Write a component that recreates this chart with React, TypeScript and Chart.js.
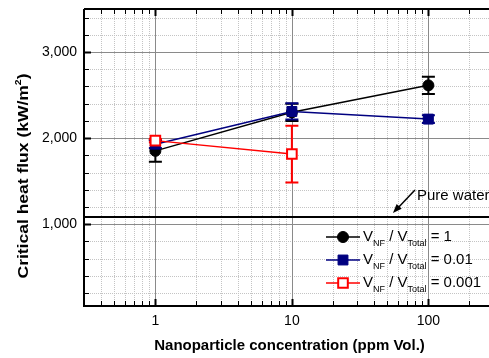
import React, { useEffect, useRef } from 'react';
import { Chart, registerables } from 'chart.js';

Chart.register(...registerables);

// ---- data ----
const CONCENTRATION = [1, 10, 100];
const CHF_RATIO_1 = [1852, 2300, 2613];
const ERR_RATIO_1 = [125, 100, 100];
const CHF_RATIO_001 = [1930, 2310, 2221];
const ERR_RATIO_001 = [45, 95, 45];
const CONCENTRATION_0001 = [1, 10];
const CHF_RATIO_0001 = [1971, 1815];
const ERR_RATIO_0001 = [20, 330];
const PURE_WATER = 1085;
const X_TICKS = [1, 10, 100];
const Y_TICKS = [1000, 2000, 3000];
const X_MIN = 0.3;
const X_MAX = 278;
const Y_MIN = 50;
const Y_MAX = 3500;

const FONT = '"Liberation Sans", Arial, Helvetica, sans-serif';

const SERIES = [
  { label: '0.001', xs: CONCENTRATION_0001, ys: CHF_RATIO_0001, err: ERR_RATIO_0001, color: '#ff0000', style: 'rect', fill: '#ffffff', radius: 6.8, bw: 2, legend: '0.001' },
  { label: '0.01', xs: CONCENTRATION, ys: CHF_RATIO_001, err: ERR_RATIO_001, color: '#000080', style: 'rect', fill: '#000080', radius: 7, bw: 1, legend: '0.01' },
  { label: '1', xs: CONCENTRATION, ys: CHF_RATIO_1, err: ERR_RATIO_1, color: '#000000', style: 'circle', fill: '#000000', radius: 5.5, bw: 1, legend: '1' },
];

function drawMarker(ctx: CanvasRenderingContext2D, s: any, x: number, y: number) {
  ctx.save();
  ctx.fillStyle = s.fill;
  ctx.strokeStyle = s.color;
  ctx.lineWidth = s.bw;
  ctx.beginPath();
  if (s.style === 'circle') {
    ctx.arc(x, y, s.radius, 0, Math.PI * 2);
  } else {
    const h = s.radius * Math.SQRT1_2;
    ctx.rect(x - h, y - h, 2 * h, 2 * h);
  }
  ctx.fill();
  ctx.stroke();
  ctx.restore();
}

const decorPlugin = {
  id: 'decor',
  beforeDatasetsDraw(chart: any) {
    const { ctx, chartArea: a, scales } = chart;
    const x = scales.x, y = scales.y;
    ctx.save();
    // minor grid
    ctx.lineWidth = 1;
    ctx.strokeStyle = '#c4c4c4';
    ctx.setLineDash([1, 1]);
    const minorX: number[] = [];
    [0.1, 1, 10, 100].forEach((d) => {
      for (let k = 2; k <= 9; k++) {
        const v = k * d;
        if (v > X_MIN && v < X_MAX) minorX.push(v);
      }
    });
    const minorY: number[] = [];
    for (let v = 200; v < Y_MAX; v += 200) if (v % 1000 !== 0) minorY.push(v);
    ctx.beginPath();
    minorX.forEach((v) => {
      const px = Math.round(x.getPixelForValue(v)) + 0.5;
      ctx.moveTo(px, a.top); ctx.lineTo(px, a.bottom);
    });
    minorY.forEach((v) => {
      const py = Math.round(y.getPixelForValue(v)) + 0.5;
      ctx.moveTo(a.left, py); ctx.lineTo(a.right, py);
    });
    ctx.stroke();
    // major grid
    ctx.setLineDash([]);
    ctx.strokeStyle = '#8a8a8a';
    ctx.beginPath();
    X_TICKS.forEach((v) => {
      const px = Math.round(x.getPixelForValue(v)) + 0.5;
      ctx.moveTo(px, a.top); ctx.lineTo(px, a.bottom);
    });
    Y_TICKS.forEach((v) => {
      const py = Math.round(y.getPixelForValue(v)) + 0.5;
      ctx.moveTo(a.left, py); ctx.lineTo(a.right, py);
    });
    ctx.stroke();

    // frame
    ctx.strokeStyle = '#000';
    ctx.lineWidth = 2;
    ctx.beginPath();
    ctx.moveTo(a.left, a.top); ctx.lineTo(a.left, a.bottom); ctx.lineTo(a.right, a.bottom);
    ctx.moveTo(a.left, a.top); ctx.lineTo(a.right, a.top);
    ctx.stroke();
    // inward ticks
    ctx.lineWidth = 1;
    ctx.beginPath();
    const tickX = (v: number, len: number) => {
      const px = Math.round(x.getPixelForValue(v)) + 0.5;
      ctx.moveTo(px, a.bottom); ctx.lineTo(px, a.bottom - len);
      ctx.moveTo(px, a.top); ctx.lineTo(px, a.top + len);
    };
    const tickY = (v: number, len: number) => {
      const py = Math.round(y.getPixelForValue(v)) + 0.5;
      ctx.moveTo(a.left, py); ctx.lineTo(a.left + len, py);
    };
    minorX.forEach((v) => tickX(v, 5));
    minorY.forEach((v) => tickY(v, 5));
    ctx.stroke();
    ctx.lineWidth = 2;
    ctx.beginPath();
    X_TICKS.forEach((v) => tickX(v, 7));
    Y_TICKS.forEach((v) => tickY(v, 7));
    ctx.stroke();

    // error bars
    for (let si = SERIES.length - 1; si >= 0; si--) {
      const s = SERIES[si];
      ctx.strokeStyle = s.color;
      ctx.lineWidth = 2;
      ctx.beginPath();
      s.xs.forEach((xv: number, i: number) => {
        const px = x.getPixelForValue(xv);
        const t = y.getPixelForValue(s.ys[i] + s.err[i]);
        const b = y.getPixelForValue(s.ys[i] - s.err[i]);
        ctx.moveTo(px, t); ctx.lineTo(px, b);
        ctx.moveTo(px - 6.5, t); ctx.lineTo(px + 6.5, t);
        ctx.moveTo(px - 6.5, b); ctx.lineTo(px + 6.5, b);
      });
      ctx.stroke();
    }
    ctx.restore();
  },
  afterDraw(chart: any) {
    const { ctx, scales } = chart;
    const x = scales.x, y = scales.y;
    ctx.save();
    // annotation
    const tipY = y.getPixelForValue(PURE_WATER) - 4;
    const tipX = x.getPixelForValue(55);
    const tailX = tipX + 22, tailY = tipY - 23;
    ctx.strokeStyle = '#000';
    ctx.fillStyle = '#000';
    ctx.lineWidth = 1.5;
    ctx.beginPath();
    ctx.moveTo(tailX, tailY); ctx.lineTo(tipX + 4, tipY - 4);
    ctx.stroke();
    const ang = Math.atan2(tipY - tailY, tipX - tailX);
    ctx.beginPath();
    ctx.moveTo(tipX, tipY);
    ctx.lineTo(tipX - 9 * Math.cos(ang) + 3.5 * Math.sin(ang), tipY - 9 * Math.sin(ang) - 3.5 * Math.cos(ang));
    ctx.lineTo(tipX - 9 * Math.cos(ang) - 3.5 * Math.sin(ang), tipY - 9 * Math.sin(ang) + 3.5 * Math.cos(ang));
    ctx.closePath();
    ctx.fill();
    ctx.font = `15px ${FONT}`;
    ctx.textBaseline = 'middle';
    ctx.textAlign = 'left';
    ctx.fillText('Pure water', tailX + 2, tailY + 6);

    // legend
    const rows = [SERIES[2], SERIES[1], SERIES[0]];
    rows.forEach((s, i) => {
      const cy = 237 + i * 23;
      ctx.strokeStyle = s.color;
      ctx.lineWidth = 1.5;
      ctx.beginPath();
      ctx.moveTo(326, cy); ctx.lineTo(360, cy);
      ctx.stroke();
      drawMarker(ctx, s, 343, cy);
      ctx.fillStyle = '#000';
      let tx = 363;
      const main = `15px ${FONT}`;
      const sub = `9px ${FONT}`;
      const put = (t: string, f: string, dy: number) => {
        ctx.font = f;
        ctx.fillText(t, tx, cy + dy);
        tx += ctx.measureText(t).width;
      };
      put('V', main, 0);
      put('NF', sub, 7);
      put(' / V', main, 0);
      put('Total', sub, 7);
      put(' = ' + s.legend, main, 0);
    });

    // axis titles
    ctx.fillStyle = '#000';
    ctx.font = `bold 15px ${FONT}`;
    ctx.textAlign = 'center';
    ctx.textBaseline = 'middle';
    ctx.fillText('Nanoparticle concentration (ppm Vol.)', 289.5, 346);

    ctx.translate(24, 176);
    ctx.rotate(-Math.PI / 2);
    ctx.textAlign = 'left';
    const p1 = 'Critical heat flux (kW/m';
    const p3 = ')';
    ctx.font = `bold 15px ${FONT}`;
    const w1 = ctx.measureText(p1).width;
    const w3 = ctx.measureText(p3).width;
    ctx.font = `bold 9px ${FONT}`;
    const w2 = ctx.measureText('2').width;
    const total = w1 + w2 + w3;
    const target = 205;
    ctx.scale(target / total, 1);
    let sx = -total / 2;
    ctx.font = `bold 15px ${FONT}`;
    ctx.fillText(p1, sx, 0); sx += w1;
    ctx.font = `bold 9px ${FONT}`;
    ctx.fillText('2', sx, -5); sx += w2;
    ctx.font = `bold 15px ${FONT}`;
    ctx.fillText(p3, sx, 0);
    ctx.restore();
  },
};

const zeroPad = (sc: any) => {
  sc.paddingTop = 0;
  sc.paddingBottom = 0;
  sc.paddingLeft = 0;
  sc.paddingRight = 0;
};

export default function App() {
  const ref = useRef<HTMLCanvasElement>(null);
  useEffect(() => {
    if (!ref.current) return;
    const datasets: any[] = SERIES.map((s) => ({
      label: s.label,
      data: s.xs.map((xv: number, i: number) => ({ x: xv, y: s.ys[i] })),
      showLine: true,
      borderColor: s.color,
      borderWidth: 1.5,
      backgroundColor: s.fill,
      pointStyle: s.style,
      pointRadius: s.radius,
      pointBorderWidth: s.bw,
      pointBorderColor: s.color,
      pointBackgroundColor: s.fill,
      clip: false,
    }));
    datasets.push({
      label: 'Pure water',
      data: [{ x: X_MIN, y: PURE_WATER }, { x: X_MAX, y: PURE_WATER }],
      showLine: true,
      borderColor: '#000',
      borderWidth: 2,
      pointRadius: 0,
    });
    const chart = new Chart(ref.current, {
      type: 'scatter',
      data: { datasets },
      plugins: [decorPlugin],
      options: {
        animation: false,
        responsive: false,
        devicePixelRatio: 1,
        layout: { autoPadding: false, padding: { top: 9, left: 0, right: 0, bottom: 0 } },
        plugins: { legend: { display: false }, tooltip: { enabled: false } },
        scales: {
          x: {
            type: 'logarithmic',
            min: X_MIN,
            max: X_MAX,
            grid: { display: false, drawTicks: false },
            border: { display: false },
            afterBuildTicks: (sc: any) => { sc.ticks = X_TICKS.map((v) => ({ value: v })); },
            afterFit: (sc: any) => { sc.height = 52; zeroPad(sc); },
            ticks: {
              color: '#000',
              padding: 7,
              maxRotation: 0,
              autoSkip: false,
              font: { family: FONT, size: 14 },
              callback: (v: any) => String(v),
            },
          },
          y: {
            min: Y_MIN,
            max: Y_MAX,
            grid: { display: false, drawTicks: false },
            border: { display: false },
            afterBuildTicks: (sc: any) => { sc.ticks = Y_TICKS.map((v) => ({ value: v })); },
            afterFit: (sc: any) => { sc.width = 84; zeroPad(sc); },
            ticks: {
              color: '#000',
              padding: 7,
              font: { family: FONT, size: 14 },
              callback: (v: any) => Number(v).toLocaleString('en-US'),
            },
          },
        },
      },
    });
    return () => chart.destroy();
  }, []);
  return (
    <div style={{ position: 'fixed', left: 0, top: 0, width: 489, height: 358, background: '#fff' }}>
      <canvas ref={ref} width={489} height={358} style={{ width: 489, height: 358, display: 'block' }} />
    </div>
  );
}
